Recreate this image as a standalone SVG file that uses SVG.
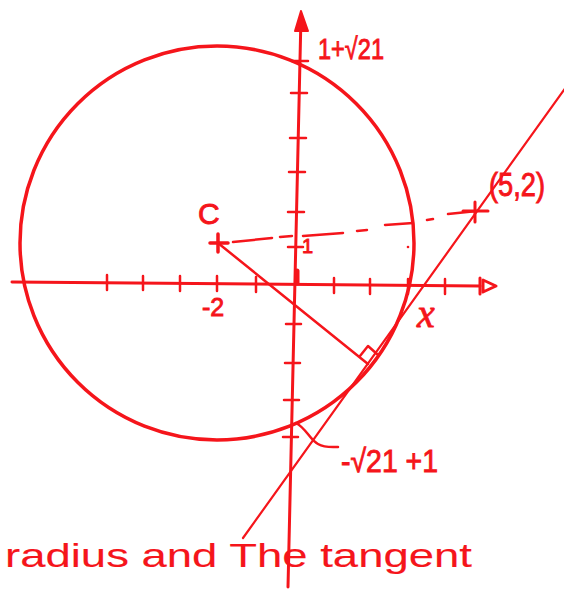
<svg xmlns="http://www.w3.org/2000/svg" width="564" height="589" viewBox="0 0 564 589">
<style>
.s{fill:none;stroke:#f5151b;stroke-linecap:round;stroke-linejoin:round}
.t{fill:#f5151b;stroke:#f5151b;stroke-width:0.9;font-family:"Liberation Sans",Arial,sans-serif}
.cap{stroke-width:0.1}
</style>
<rect width="564" height="589" fill="#ffffff"/>
<g id="axes">
<line class="s" x1="301" y1="16" x2="288" y2="587" stroke-width="3"/>
<polygon points="301,11 295,31 308,31" fill="#f5151b" stroke="#f5151b" stroke-width="2" stroke-linejoin="round"/>
<line class="s" x1="12" y1="282" x2="480" y2="286" stroke-width="3"/>
<line class="s" x1="480" y1="278" x2="480" y2="294" stroke-width="3"/>
<polygon class="s" points="483,280 496,286 483,292" stroke-width="3"/>
<g class="s" stroke-width="2.5">
<path d="M292,61H308M291,93H307M290,138H306M289,172H305M288,212H304M288,247H303M286,324H301M285,363H300M284,400H299M283,437H298"/>
<path d="M107,275V290M143,276V290M180,276V291M217,276V291M256,277V292M334,278V293M370,279V294M408,279V294M445,279V294"/>
</g>
<line class="s" x1="297" y1="271" x2="297" y2="283" stroke-width="5"/>
</g>
<g id="circle">
<circle class="s" cx="217" cy="243" r="197" stroke-width="3.5"/>
</g>
<g id="connectors">
<line id="tangent" class="s" x1="243" y1="538" x2="566" y2="87" stroke-width="2.2"/>
<line id="radius" class="s" x1="218" y1="243" x2="368" y2="364" stroke-width="2.5"/>
<polyline class="s" points="360,356 368,346 377,354" stroke-width="2.5"/>
<path id="dashed" class="s" stroke-width="2.5" d="M233,242L272,238M280,237L292,236M303,236L343,233M357,231L367,230M385,225L413,223M427,220L433,219M448,214L477,211"/>
<path id="pointer" class="s" stroke-width="2.5" d="M296,423C306,428 310,440 318,444C325,448 332,447 338,447"/>
</g>
<g id="point-C">
<path class="s" d="M210,243H228M218,234V252" stroke-width="3.5"/>
<text class="t" x="198" y="224" font-size="30">C</text>
</g>
<g id="point-52">
<path class="s" d="M463,211H488M475,202V222" stroke-width="3"/>
<text class="t" x="489" y="196" font-size="33" textLength="56" lengthAdjust="spacingAndGlyphs">(5,2)</text>
</g>
<g id="labels">
<text class="t" x="318" y="59" font-size="30" textLength="66" lengthAdjust="spacingAndGlyphs">1+√21</text>
<text class="t" x="202" y="316" font-size="25">-2</text>
<text class="t" x="302" y="253" font-size="20">1</text>
<text x="417" y="327" font-size="40" font-style="italic" fill="#f5151b" stroke="#f5151b" stroke-width="0.8" font-family="'Liberation Serif',serif">x</text>
<text class="t" x="341" y="472" font-size="32" textLength="97" lengthAdjust="spacingAndGlyphs">-√21 +1</text>
<circle cx="408" cy="247" r="1.3" fill="#f5151b"/>
</g>
<g id="caption">
<text class="t cap" x="5" y="567" font-size="34" textLength="467" lengthAdjust="spacingAndGlyphs">radius and The tangent</text>
</g>
</svg>
